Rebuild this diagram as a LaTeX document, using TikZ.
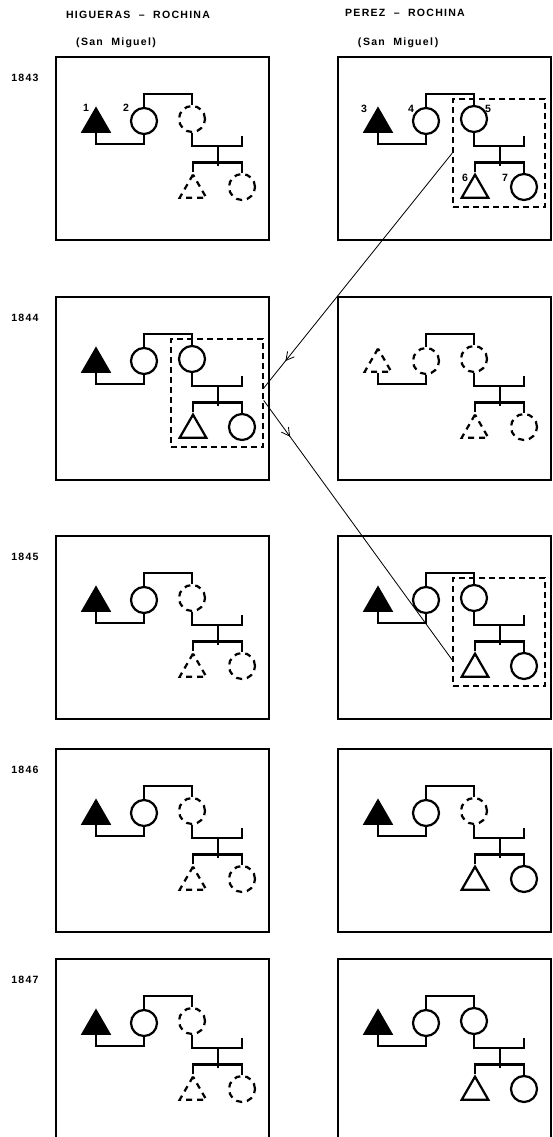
\documentclass[tikz,border=0pt]{standalone}
\usepackage{fontspec}
\newfontfamily\labfont{Liberation Sans}[LetterSpace=12]
\usetikzlibrary{shapes.geometric}
\usetikzlibrary{arrows.meta}
\usetikzlibrary{decorations.markings}

\tikzset{
 pers/.style={draw, line width=1.9pt, inner sep=0pt},
 male/.style={pers, regular polygon, regular polygon sides=3, minimum size=9.2mm},
 fem/.style={pers, circle, minimum size=7.8mm},
 gone/.style={dash pattern=on 1.8mm off 1.5mm},
 lin/.style={line width=1.9pt},
 panel/.style={draw, line width=1.6pt},
 grp/.style={draw, rectangle, dash pattern=on 1.8mm off 1.2mm, line width=1.2pt, minimum width=27.6mm, minimum height=32.4mm},
 lab/.style={font=\labfont\bfseries\fontsize{9}{10}\selectfont, inner sep=0pt},
 move/.style={line width=.7pt, postaction={decorate}, decoration={markings, mark=at position #1 with {\arrow{Straight Barb[length=2.4mm, width=2.6mm]}}}},
}

% proband, wife, wife's sister, sister's two children
\newcommand{\kin}[5]{
 \node[male,#2] (#1T) at (40,67) {};
 \node[fem,#3] (#1A) at (88,64) {};
 \node[fem,#4] (#1B) at (136,62) {};
 \node[male,#5] (#1K) at (137,133) {};
 \node[fem,#5] (#1C) at (186,130) {};
 \draw[lin] (#1T.side 2) -- ++(0,11) -| (#1A.south);
 \draw[lin] (#1A.north) -- ++(0,-13) -| (#1B.north);
 \draw[lin] (#1B.south) -- ++(0,13) coordinate (#1m) -- ++(50,0) -- ++(0,-10);
 \draw[lin] (#1m) ++(26,0) -- ++(0,20);
 \draw[lin] (#1K.corner 1) -- ++(0,-10) -| (#1C.north);
}

\begin{document}
\begin{tikzpicture}[x=0.3mm, y=-0.3mm]
\clip (0,0) rectangle (553,1137);
\node[lab] (t1) at (138,15) {HIGUERAS\ \ –\ \ ROCHINA};
\node[lab] (s1) at (116,43) {(San\ \ Miguel)};
\node[lab] (t2) at (405,13) {PEREZ\ \ –\ \ ROCHINA};
\node[lab] (s2) at (398,43) {(\,San\ \ Miguel\,)};
\foreach \y/\yr in {57/1843, 297/1844, 536/1845, 749/1846, 959/1847} {
 \draw[panel] (56,\y) rectangle ++(213,183);
 \draw[panel] (338,\y) rectangle ++(213,183);
 \node[lab] (yr\yr) at (25,\y+21) {\yr};
}

\begin{scope}[shift={(56,57)}]
 \kin{a}{fill=black}{}{gone}{gone}
 \node[lab] (n1) at (30,51) {1};
 \node[lab] (n2) at (70,51) {2};
\end{scope}
\begin{scope}[shift={(338,57)}]
 \kin{b}{fill=black}{}{}{}
 \node[lab] (n3) at (26,52) {3};
 \node[lab] (n4) at (73,52) {4};
 \node[lab] (n5) at (150,52) {5};
 \node[lab] (n6) at (127,121) {6};
 \node[lab] (n7) at (167,121) {7};
 \node[grp] (grpA) at (161,96) {};
\end{scope}

\begin{scope}[shift={(56,297)}]
 \kin{c}{fill=black}{}{}{}
 \node[grp] (grpB) at (161,96) {};
\end{scope}
\begin{scope}[shift={(338,297)}]
 \kin{d}{gone}{gone}{gone}{gone}
\end{scope}

\begin{scope}[shift={(56,536)}]
 \kin{e}{fill=black}{}{gone}{gone}
\end{scope}
\begin{scope}[shift={(338,536)}]
 \kin{f}{fill=black}{}{}{}
 \node[grp] (grpC) at (161,96) {};
\end{scope}

\begin{scope}[shift={(56,749)}]
 \kin{g}{fill=black}{}{gone}{gone}
\end{scope}
\begin{scope}[shift={(338,749)}]
 \kin{h}{fill=black}{}{gone}{}
\end{scope}

\begin{scope}[shift={(56,959)}]
 \kin{i}{fill=black}{}{gone}{gone}
\end{scope}
\begin{scope}[shift={(338,959)}]
 \kin{j}{fill=black}{}{}{}
\end{scope}

\draw[move=.885] (grpA.west) -- (grpB.6);
\draw[move=.14] (grpB.-9) -- (grpC.211);
\end{tikzpicture}
\end{document}
